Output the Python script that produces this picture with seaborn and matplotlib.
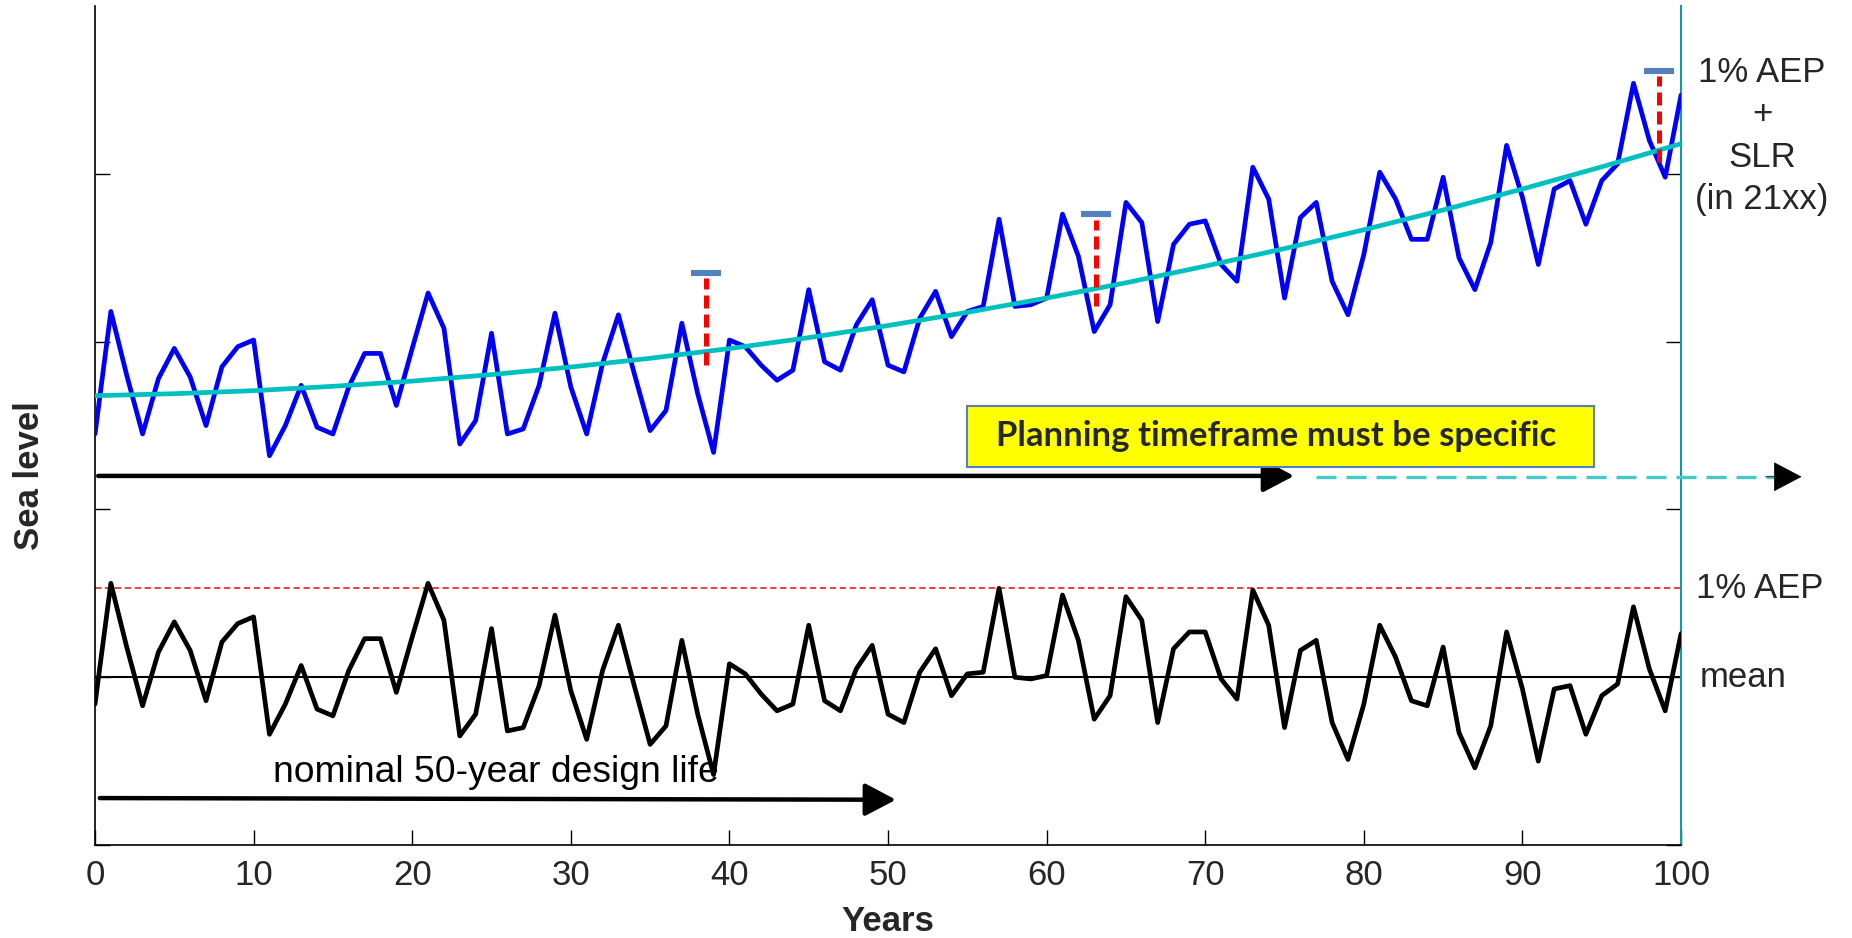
import matplotlib
matplotlib.use("Agg")
import matplotlib.pyplot as plt
import numpy as np
import pandas as pd
import seaborn as sns
from matplotlib.patches import Rectangle

# ---------------- data ----------------
years = list(range(0, 101))

# detrended annual sea-level variability (lower black series), units: tick spacing
variability = [
    -0.16, 0.56, 0.18, -0.17, 0.15, 0.33, 0.16, -0.14, 0.21, 0.32,
    0.36, -0.34, -0.16, 0.07, -0.19, -0.23, 0.04, 0.23, 0.23, -0.09,
    0.24, 0.56, 0.34, -0.35, -0.22, 0.29, -0.32, -0.30, -0.05, 0.37,
    -0.08, -0.37, 0.04, 0.31, -0.05, -0.40, -0.29, 0.22, -0.22, -0.58,
    0.08, 0.02, -0.10, -0.20, -0.16, 0.31, -0.14, -0.20, 0.05, 0.19,
    -0.22, -0.27, 0.03, 0.17, -0.11, 0.02, 0.03, 0.53, 0.00, -0.01,
    0.01, 0.49, 0.22, -0.25, -0.11, 0.48, 0.34, -0.27, 0.17, 0.27,
    0.27, -0.01, -0.13, 0.52, 0.31, -0.30, 0.16, 0.22, -0.27, -0.49,
    -0.16, 0.31, 0.12, -0.14, -0.17, 0.18, -0.33, -0.54, -0.29, 0.27,
    -0.07, -0.50, -0.07, -0.05, -0.34, -0.11, -0.04, 0.42, 0.05, -0.20,
    0.26,
]

# sea level including sea-level rise (upper blue series)
sea_level_slr = [
    1.45, 2.18, 1.80, 1.45, 1.78, 1.96, 1.79, 1.50, 1.85, 1.97,
    2.01, 1.32, 1.50, 1.74, 1.49, 1.45, 1.73, 1.93, 1.93, 1.62,
    1.96, 2.29, 2.08, 1.39, 1.53, 2.05, 1.45, 1.48, 1.74, 2.17,
    1.73, 1.45, 1.87, 2.16, 1.81, 1.47, 1.59, 2.11, 1.69, 1.34,
    2.01, 1.97, 1.86, 1.77, 1.83, 2.31, 1.88, 1.83, 2.10, 2.25,
    1.86, 1.82, 2.14, 2.30, 2.03, 2.18, 2.21, 2.73, 2.21, 2.22,
    2.26, 2.76, 2.51, 2.06, 2.22, 2.83, 2.71, 2.12, 2.58, 2.70,
    2.72, 2.46, 2.36, 3.04, 2.85, 2.26, 2.74, 2.83, 2.36, 2.16,
    2.52, 3.01, 2.85, 2.61, 2.61, 2.98, 2.50, 2.31, 2.59, 3.17,
    2.86, 2.46, 2.91, 2.96, 2.70, 2.96, 3.06, 3.54, 3.20, 2.98,
    3.47,
]

# mean sea-level trend (cyan curve)
trend_years = [0, 5, 10, 15, 20, 25, 30, 35, 40, 45, 50,
               55, 60, 65, 70, 75, 80, 85, 90, 95, 100]
trend_level = [1.678, 1.690, 1.708, 1.734, 1.765, 1.804, 1.849, 1.901, 1.959, 2.024, 2.096,
               2.175, 2.260, 2.351, 2.450, 2.555, 2.667, 2.785, 2.910, 3.042, 3.180]

mean_level = 0.0
aep_level = 0.53

# 1% AEP allowance markers
marker_years = [38.5, 63.1, 98.6]
marker_bottom = [1.86, 2.215, 3.07]
marker_top = [2.408, 2.758, 3.612]

xticks = [0, 10, 20, 30, 40, 50, 60, 70, 80, 90, 100]
xtick_labels = ["0", "10", "20", "30", "40", "50", "60", "70", "80", "90", "100"]
yticks = [-1, 0, 1, 2, 3]

# ---------------- style ----------------
sns.set_theme(style="white")
plt.rcParams["font.family"] = ["Liberation Sans", "DejaVu Sans"]

fig = plt.figure(figsize=(18.52, 9.38), dpi=100)
ax = fig.add_axes([0.0513, 0.0991, 0.8564, 0.8944])

df_var = pd.DataFrame({"year": years, "level": variability})
df_slr = pd.DataFrame({"year": years, "level": sea_level_slr})
df_trend = pd.DataFrame({"year": trend_years, "level": trend_level})

# lower series
sns.lineplot(data=df_var, x="year", y="level", ax=ax, color="black", lw=3.4, zorder=3)
ax.axhline(mean_level, color="black", lw=1.5, zorder=2)
ax.axhline(aep_level, color="red", lw=1.1, ls=(0, (4, 2.5)), zorder=2)

# upper series
sns.lineplot(data=df_slr, x="year", y="level", ax=ax, color="#0000FF", lw=3.4, zorder=3)
sns.lineplot(data=df_trend, x="year", y="level", ax=ax, color="#00C0C0", lw=3.4, zorder=4)

# AEP allowance markers
for xm, yb, yt in zip(marker_years, marker_bottom, marker_top):
    ax.plot([xm, xm], [yb, yt - 0.03], color="red", lw=3.6, ls=(0, (2.6, 1.2)),
            zorder=5, solid_capstyle="butt", dash_capstyle="butt")
    ax.plot([xm - 0.95, xm + 0.95], [yt, yt], color="#5381BE", lw=4.4, zorder=6,
            solid_capstyle="butt")

arrow_head = "-|>,head_length=0.95,head_width=0.5"

# planning timeframe arrow
ax.annotate("", xy=(75.6, 1.20), xytext=(0.2, 1.20),
            arrowprops=dict(arrowstyle=arrow_head, mutation_scale=20, color="black",
                            lw=3.2, shrinkA=0, shrinkB=0), zorder=5)
ax.plot([77.0, 106.3], [1.195, 1.195], color="#45C9C9", lw=2.4, ls=(0, (6, 3)),
        clip_on=False, zorder=5)
ax.annotate("", xy=(107.6, 1.195), xytext=(105.3, 1.195), annotation_clip=False,
            arrowprops=dict(arrowstyle=arrow_head, mutation_scale=20, color="black",
                            lw=0.5, shrinkA=0, shrinkB=0), zorder=6)

# planning box
ax.add_patch(Rectangle((55.0, 1.254), 39.5, 0.364, facecolor="#FFFF00",
                       edgecolor="#5381BE", lw=1.5, zorder=6))
ax.text(56.8, 1.436, "Planning timeframe must be specific", fontsize=25,
        fontweight="bold", family=["Lato", "DejaVu Sans"], ha="left", va="center",
        zorder=7)

# design life arrow
ax.annotate("", xy=(50.5, -0.73), xytext=(0.3, -0.72),
            arrowprops=dict(arrowstyle=arrow_head, mutation_scale=20, color="black",
                            lw=3.2, shrinkA=0, shrinkB=0), zorder=5)
ax.text(25.3, -0.565, "nominal 50-year design life", fontsize=26.8, ha="center",
        va="center", color="black")

# right-hand labels
ax.text(105.1, 3.225, "1% AEP\n+\nSLR\n(in 21xx)", fontsize=25, ha="center",
        va="center", linespacing=1.36, clip_on=False)
ax.text(100.95, aep_level, "1% AEP", fontsize=25, ha="left", va="center", clip_on=False)
ax.text(101.2, mean_level, "mean", fontsize=25, ha="left", va="center", clip_on=False)

# axes
ax.set_xlim(0, 100)
ax.set_ylim(-1, 4)
ax.set_xticks(xticks)
ax.set_xticklabels(xtick_labels, family=["Liberation Sans Narrow", "Liberation Sans"],
                   fontsize=25)
ax.set_yticks(yticks)
ax.set_yticklabels([])
ax.tick_params(axis="both", direction="in", length=11, width=1, color="black",
               left=True, right=True, bottom=True, top=False)
ax.tick_params(axis="x", pad=10)

ax.set_xlabel("Years", fontsize=25, fontweight="bold")
ax.xaxis.label.set(va="center")
ax.xaxis.set_label_coords(0.5, -0.0906)
ax.set_ylabel("Sea level", fontsize=25, fontweight="bold")
ax.yaxis.label.set(va="center", ha="center", rotation_mode="anchor")
ax.yaxis.set_label_coords(-0.0416, 0.441)

for side in ["left", "bottom", "top"]:
    ax.spines[side].set_color("black")
    ax.spines[side].set_linewidth(1.2)
ax.spines["right"].set_color("#119E9E")
ax.spines["right"].set_linewidth(1.5)
ax.spines["top"].set_visible(False)

fig.savefig("out.png", dpi=100)
